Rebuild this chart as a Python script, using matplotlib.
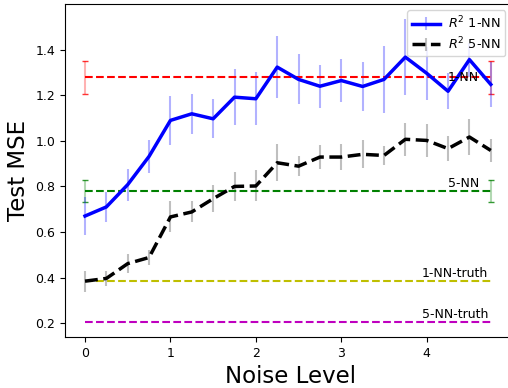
import numpy as np
import matplotlib
matplotlib.use('Agg')
import matplotlib.pyplot as plt

noise = np.arange(0, 5, 0.25)

# R^2 estimator errors for 1-NN and 5-NN
mse_1nn = [0.670, 0.710, 0.808, 0.932, 1.090, 1.119, 1.097, 1.192, 1.185, 1.324,
           1.270, 1.240, 1.265, 1.239, 1.270, 1.368, 1.297, 1.218, 1.357, 1.248]
std_1nn = [0.083, 0.066, 0.070, 0.073, 0.107, 0.088, 0.085, 0.124, 0.117, 0.137,
           0.110, 0.095, 0.095, 0.107, 0.146, 0.168, 0.117, 0.080, 0.075, 0.100]
mse_5nn = [0.384, 0.396, 0.461, 0.488, 0.666, 0.688, 0.746, 0.800, 0.802, 0.904,
           0.889, 0.929, 0.929, 0.941, 0.936, 1.007, 1.002, 0.966, 1.017, 0.958]
std_5nn = [0.046, 0.033, 0.042, 0.035, 0.068, 0.046, 0.060, 0.062, 0.068, 0.081,
           0.044, 0.053, 0.058, 0.061, 0.042, 0.073, 0.072, 0.054, 0.077, 0.050]

# baselines
base_names = ['1-NN', '5-NN', '1-NN-truth', '5-NN-truth']
base_vals = [1.280, 0.779, 0.384, 0.205]
base_stds = [0.073, 0.048, 0.0, 0.0]
base_cols = ['r', 'g', 'y', 'm']

fig = plt.figure(figsize=(5.08, 3.88), dpi=100)
ax = fig.add_axes([0.128, 0.131, 0.886, 0.858])

ends = [noise[0], noise[-1]]
for name, v, s, c in zip(base_names, base_vals, base_stds, base_cols):
    if s > 0:
        _, caps, bars = ax.errorbar(ends, [v, v], yerr=[s, s], fmt='--', color=c,
                                    lw=1.5, elinewidth=1.5, capsize=2, ecolor=c)
        for b in bars:
            b.set_alpha(0.3)
        for cp in caps:
            cp.set_alpha(0.8)
    else:
        ax.plot(ends, [v, v], '--', color=c, lw=1.5)

ax.text(4.61, base_vals[0], base_names[0], ha='right', va='center', fontsize=9)
ax.text(4.61, base_vals[1] + 0.005, base_names[1], ha='right', va='bottom', fontsize=9)
ax.text(4.72, base_vals[2] + 0.005, base_names[2], ha='right', va='bottom', fontsize=9)
ax.text(4.72, base_vals[3] + 0.005, base_names[3], ha='right', va='bottom', fontsize=9)

e1 = ax.errorbar(noise, mse_1nn, yerr=std_1nn, fmt='-', color='b', lw=2.5,
                 ecolor=(0, 0, 1, 0.3), elinewidth=1.5, label='$R^2$ 1-NN')
e5 = ax.errorbar(noise, mse_5nn, yerr=std_5nn, fmt='--', color='k', lw=2.5,
                 ecolor=(0.5, 0.5, 0.5, 0.5), elinewidth=1.5, label='$R^2$ 5-NN')

ax.set_xlim(-0.234, 5.035)
ax.set_ylim(0.138, 1.6)
ax.set_xticks([0, 1, 2, 3, 4])
ax.set_yticks([0.2, 0.4, 0.6, 0.8, 1.0, 1.2, 1.4])
ax.tick_params(labelsize=9)
ax.set_xlabel('Noise Level', fontsize=16.5)
ax.set_ylabel('Test MSE', fontsize=16.5)
ax.legend(loc='upper right', bbox_to_anchor=(0.978, 0.982), borderaxespad=0,
          fontsize=9.3, handlelength=2.2, borderpad=0.35, labelspacing=0.3,
          handletextpad=0.6)

fig.savefig('out.png', dpi=100)
